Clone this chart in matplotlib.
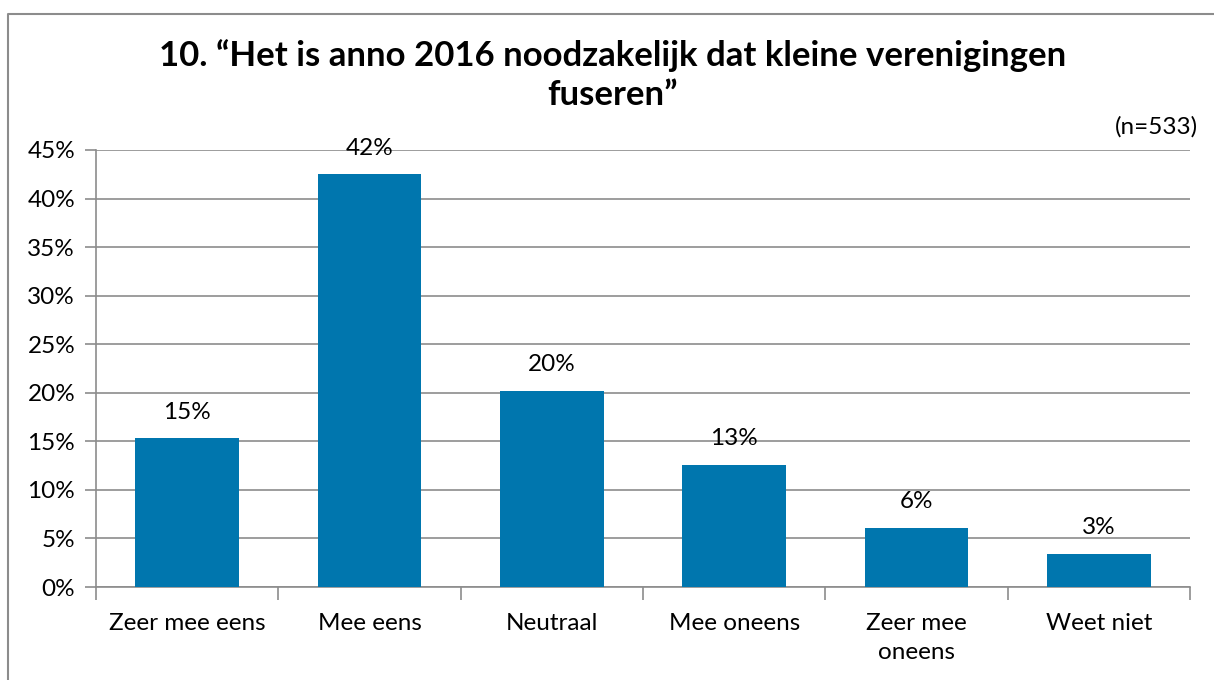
import matplotlib
matplotlib.use("Agg")
import matplotlib.pyplot as plt
from matplotlib.lines import Line2D
import numpy as np

categories = ["Zeer mee eens", "Mee eens", "Neutraal", "Mee oneens", "Zeer mee\noneens", "Weet niet"]
values = [15.3, 42.5, 20.2, 12.6, 6.1, 3.4]
labels = ["15%", "42%", "20%", "13%", "6%", "3%"]
yticks = [0, 5, 10, 15, 20, 25, 30, 35, 40, 45]

plt.rcParams['font.family'] = ['Lato', 'DejaVu Sans']

W, H = 1214, 680
fig = plt.figure(figsize=(W/100, H/100), dpi=100)
ax = fig.add_axes([96/W, 1-587/H, (1190-96)/W, (587-150)/H])

fs = 17.5
x = np.arange(len(categories))
ax.bar(x, values, width=0.57, color="#0076AE", zorder=3)
for xi, v, l in zip(x, values, labels):
    ax.text(xi, v + 1.6, l, ha="center", va="bottom", fontsize=fs, color="black")

ax.set_xlim(-0.5, len(categories)-0.5)
ax.set_ylim(0, 45)
ax.set_yticks(yticks)
ax.set_yticklabels([f"{t}%" for t in yticks], fontsize=fs)
ax.yaxis.grid(True, color="#8c8c8c", linewidth=1.2, zorder=0)
ax.set_xticks(x)
ax.set_xticklabels(categories, fontsize=fs, linespacing=1.45)
ax.set_xticks(np.arange(-0.5, len(categories)), minor=True)
ax.tick_params(axis="x", which="major", length=0, pad=19)
ax.tick_params(axis="x", which="minor", length=9, color="#8c8c8c", width=1.2, direction="out")
ax.tick_params(axis="y", length=8, color="#8c8c8c", width=1.2, pad=7)
for s in ["top", "right"]:
    ax.spines[s].set_visible(False)
for s in ["left", "bottom"]:
    ax.spines[s].set_color("#8c8c8c")
    ax.spines[s].set_linewidth(1.2)

fig.text(613/W, 1-75/H, "10. \u201cHet is anno 2016 noodzakelijk dat kleine verenigingen\nfuseren\u201d",
         ha="center", va="center", fontsize=25, fontweight="bold", linespacing=1.3,
         transform=fig.transFigure)
fig.text(1198/W, 1-127/H, "(n=533)", ha="right", va="center", fontsize=fs)

fig.add_artist(Line2D([8/W, 8/W, 1], [0, 1-14/H, 1-14/H], transform=fig.transFigure,
                      color="#8c8c8c", linewidth=1.5))

fig.savefig("out.png", dpi=100)
